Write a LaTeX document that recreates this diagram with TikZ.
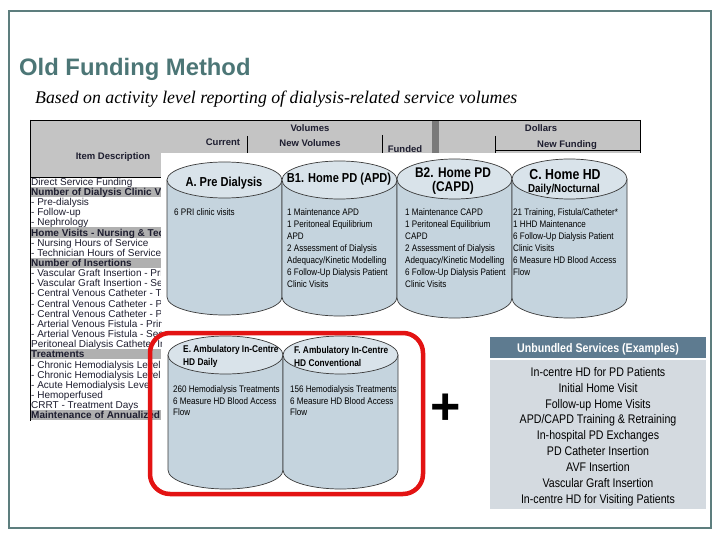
\documentclass[tikz,border=0pt]{standalone}
\usepackage{fontspec}
\setmainfont{Liberation Sans}
\newfontfamily\narrowf[FakeStretch=0.85]{Liberation Sans}
\newfontfamily\seriff{Liberation Serif}
\definecolor{framec}{HTML}{5D7E7E}
\definecolor{titlec}{HTML}{4C7676}
\definecolor{cylb}{HTML}{C5D4DE}
\definecolor{cylt}{HTML}{D9E3EA}
\definecolor{cyll}{HTML}{3A3A3A}
\definecolor{redc}{HTML}{E31313}
\definecolor{unbh}{HTML}{5E7B90}
\definecolor{unbb}{HTML}{D4DAE0}
\definecolor{hdrg}{HTML}{C4C4C4}
\definecolor{rowg}{HTML}{B0B0B0}
\definecolor{rowc}{HTML}{1E1E30}
\definecolor{darkbar}{HTML}{7A7A7A}
\newcommand\cyl[5]{%
  \pgfmathsetmacro\cylcx{(#1+#2)/2}%
  \pgfmathsetmacro\cylrx{(#2-#1)/2}%
  \pgfmathsetmacro\cylkx{0.5523*\cylrx}%
  \pgfmathsetmacro\cylky{0.5523*#5}%
  \filldraw[cylbody] (#1,#3) -- (#1,#4)
    .. controls (#1,#4+\cylky) and (\cylcx-\cylkx,#4+#5) .. (\cylcx,#4+#5)
    .. controls (\cylcx+\cylkx,#4+#5) and (#2,#4+\cylky) .. (#2,#4)
    -- (#2,#3) -- cycle;
  \filldraw[cyltop] (\cylcx,#3) ellipse [x radius=\cylrx pt, y radius=#5 pt];
}
\begin{document}
\begin{tikzpicture}[x=1pt,y=-1pt,
  cylbody/.style={fill=cylb, draw=cyll, line width=0.7pt},
  cyltop/.style={fill=cylt, draw=cyll, line width=0.7pt},
  rowtxt/.style={anchor=base west, inner sep=0pt, font=\fontsize{10}{11}\selectfont, text=rowc},
  hdrtxt/.style={anchor=base, inner sep=0pt, font=\bfseries\fontsize{9.5}{11}\selectfont, text=rowc},
  ctitle/.style={anchor=base, inner sep=0pt, font=\narrowf\bfseries\fontsize{13}{15}\selectfont},
  etitle/.style={anchor=north west, inner sep=0pt, align=left, font=\narrowf\bfseries\fontsize{9.8}{13}\selectfont},
  cbody/.style={anchor=north west, inner sep=0pt, align=left, font=\narrowf\fontsize{9.5}{12}\selectfont},
  ebody/.style={anchor=north west, inner sep=0pt, align=left, font=\narrowf\fontsize{9.5}{11.7}\selectfont},
  unbtxt/.style={anchor=base, inner sep=0pt, font=\narrowf\fontsize{12.5}{14}\selectfont},
  tline/.style={draw=black, line width=0.8pt}]
\useasboundingbox (0,0) rectangle (720,540);
\fill[white] (0,0) rectangle (720,540);
% frame
\draw[framec, line width=2pt] (9,11) rectangle (711,528);
% title
\node[anchor=base west, inner sep=0pt, text=titlec, font=\bfseries\fontsize{23.8}{26}\selectfont] (title) at (19,76) {Old Funding Method};
\node[anchor=base west, inner sep=0pt, font=\seriff\itshape\fontsize{17.8}{20}\selectfont] (subtitle) at (35,104) {Based on activity level reporting of dialysis-related service volumes};
% ---------- spreadsheet background ----------
\fill[hdrg] (30,120) rectangle (640,177);
\fill[darkbar] (432,120) rectangle (439,153);
\node[hdrtxt] (hitem) at (113,159.4) {Item Description};
\node[hdrtxt] (hcur) at (223,145.4) {Current};
\node[hdrtxt] (hvol) at (310,131.4) {Volumes};
\node[hdrtxt] (hnvol) at (310,146.4) {New Volumes};
\node[hdrtxt] (hfund) at (405,152.2) {Funded};
\node[hdrtxt] (hdol) at (541,131.4) {Dollars};
\node[hdrtxt] (hnfund) at (567,147.4) {New Funding};
\draw[tline] (30,120) -- (640,120);
\draw[tline] (640,120) -- (640,153);
\draw[tline] (247,136) -- (247,153);
\draw[tline] (382,135) -- (382,153);
\draw[tline] (495,136) -- (495,153);
\draw[tline] (495,150) -- (640,150);
\draw[tline] (30,177) -- (161,177);
\begin{scope}
\clip (29,177) rectangle (161,425);
\foreach \t/\s [count=\i from 0] in {
  Direct Service Funding/0,
  Number of Dialysis Clinic Visits/1,
  - Pre-dialysis/0,
  - Follow-up/0,
  - Nephrology/0,
  Home Visits - Nursing \& Technician/1,
  - Nursing Hours of Service/0,
  - Technician Hours of Service/0,
  Number of Insertions/1,
  - Vascular Graft Insertion - Primary/0,
  - Vascular Graft Insertion - Secondary/0,
  - Central Venous Catheter - Temporary/0,
  - Central Venous Catheter - Permanent/0,
  - Central Venous Catheter - Permanent/0,
  - Arterial Venous Fistula - Primary/0,
  - Arterial Venous Fistula - Secondary/0,
  Peritoneal Dialysis Catheter Insertion/0,
  Treatments/1,
  - Chronic Hemodialysis Level 1/0,
  - Chronic Hemodialysis Level II/0,
  - Acute Hemodialysis Level/0,
  - Hemoperfused/0,
  CRRT - Treatment Days/0,
  Maintenance of Annualized/1}
{
  \pgfmathsetmacro\yc{181.7+10.15*\i}
  \ifnum\s=1
    \fill[rowg] (30,\yc-5.1) rectangle (161,\yc+5.1);
    \node[rowtxt, font=\bfseries\fontsize{10}{11}\selectfont] (row\i) at (31,\yc+3.6) {\t};
  \else
    \node[rowtxt] (row\i) at (31,\yc+3.6) {\t};
  \fi
}
\end{scope}
\draw[tline] (30,120) -- (30,421);
% ---------- white panel with cylinders ----------
\fill[white] (161,153) rectangle (642,322);
\cyl{167}{282}{180}{297}{18}
\cyl{282}{397}{180}{297}{19}
\cyl{397}{512}{179}{298}{20}
\cyl{512}{627}{179}{298}{20}
\node[ctitle] (ta) at (224,186.7) {A. Pre Dialysis};
\node[ctitle] (tb1) at (339,182.7) {B1. Home PD (APD)};
\node[ctitle, font=\narrowf\bfseries\fontsize{14}{16}\selectfont] (tb2a) at (453,178) {B2. Home PD};
\node[ctitle, font=\narrowf\bfseries\fontsize{14}{16}\selectfont] (tb2b) at (453,192) {(CAPD)};
\node[ctitle, font=\narrowf\bfseries\fontsize{14.5}{16}\selectfont] (tca) at (565,179.2) {C. Home HD};
\node[ctitle, font=\narrowf\bfseries\fontsize{11.5}{13}\selectfont] (tcb) at (564,193) {Daily/Nocturnal};
\node[cbody] (ba) at (174,208.5) {6 PRI clinic visits};
\node[cbody] (bb1) at (287,208.5) {1 Maintenance APD\\1 Peritoneal Equilibrium\\APD\\2 Assessment of Dialysis\\Adequacy/Kinetic Modelling\\6 Follow-Up Dialysis Patient\\Clinic Visits};
\node[cbody] (bb2) at (405,208.5) {1 Maintenance CAPD\\1 Peritoneal Equilibrium\\CAPD\\2 Assessment of Dialysis\\Adequacy/Kinetic Modelling\\6 Follow-Up Dialysis Patient\\Clinic Visits};
\node[cbody] (bc) at (513,208.5) {21 Training, Fistula/Catheter*\\1 HHD Maintenance\\6 Follow-Up Dialysis Patient\\Clinic Visits\\6 Measure HD Blood Access\\Flow};
% ---------- E / F cylinders ----------
\cyl{168}{283}{355}{470}{19}
\cyl{283}{398}{355}{470}{19}
\node[etitle] (te) at (183,345.4) {E. Ambulatory In-Centre\\HD Daily};
\node[etitle] (tf) at (294,345.8) {F. Ambulatory In-Centre\\HD Conventional};
\node[ebody] (be) at (173,385.5) {260 Hemodialysis Treatments\\6 Measure HD Blood Access\\Flow};
\node[ebody] (bf) at (290,385.5) {156 Hemodialysis Treatments\\6 Measure HD Blood Access\\Flow};
\draw[redc, line width=4.5pt, rounded corners=20pt] (150,333) rectangle (423,494);
% plus
\node[inner sep=0pt, font=\bfseries\fontsize{52}{56}\selectfont] (plus) at (446,409) {+};
% ---------- unbundled services ----------
\fill[unbh] (490,337) rectangle (706,358);
\fill[unbb] (490,360) rectangle (706,509);
\node[unbtxt, text=white, font=\narrowf\bfseries\fontsize{12.5}{14}\selectfont] (uhead) at (598,352.5) {Unbundled Services (Examples)};
\foreach \t [count=\k from 0] in {
  In-centre HD for PD Patients,
  Initial Home Visit,
  Follow-up Home Visits,
  APD/CAPD Training \& Retraining,
  In-hospital PD Exchanges,
  PD Catheter Insertion,
  AVF Insertion,
  Vascular Graft Insertion,
  In-centre HD for Visiting Patients}
{
  \pgfmathsetmacro\yu{371.7+15.9*\k+4.5}
  \node[unbtxt] (u\k) at (598,\yu) {\t};
}
\end{tikzpicture}
\end{document}
